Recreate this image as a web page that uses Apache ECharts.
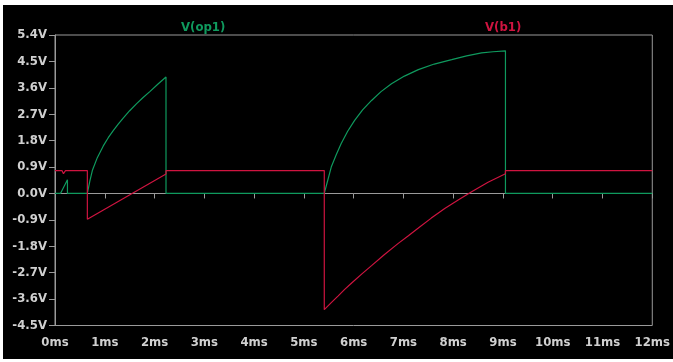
<!DOCTYPE html>
<html>
<head>
<meta charset="utf-8">
<script src="https://cdn.jsdelivr.net/npm/echarts@6/dist/echarts.min.js"></script>
<style>
  html, body { margin: 0; padding: 0; background: #ffffff; }
  #chart { position: absolute; left: 3px; top: 5px; width: 670px; height: 354px; background: #000000; }
</style>
</head>
<body>
<div id="chart"></div>
<script>
// V(op1) trace (time in ms, voltage in V)
const opTime = [0, 0.11, 0.25, 0.25, 0.65, 0.70, 0.75, 0.85, 0.97, 1.07, 1.17, 1.27, 1.37, 1.50, 1.64, 1.77, 1.91, 2.07, 2.23, 2.23,
                5.41, 5.48, 5.55, 5.65, 5.75, 5.88, 6.02, 6.18, 6.36, 6.55, 6.76, 7.02, 7.30, 7.62, 7.97, 8.27, 8.57, 8.80, 9.05, 9.05, 12];
const opVolt = [0, 0, 0.47, 0, 0, 0.42, 0.78, 1.22, 1.62, 1.90, 2.14, 2.36, 2.57, 2.82, 3.06, 3.27, 3.48, 3.73, 3.97, 0,
                0, 0.45, 0.90, 1.32, 1.70, 2.12, 2.49, 2.85, 3.17, 3.47, 3.74, 4.00, 4.22, 4.41, 4.56, 4.69, 4.79, 4.83, 4.86, 0, 0];
// V(b1) trace
const b1Time = [0, 0.14, 0.17, 0.21, 0.65, 0.65, 2.23, 2.23, 5.41, 5.41, 5.55, 5.69, 5.82, 5.96, 6.16, 6.36, 6.62, 6.89, 7.10, 7.30,
                7.56, 7.83, 8.10, 8.37, 8.70, 9.05, 9.05, 12];
const b1Volt = [0.78, 0.78, 0.67, 0.78, 0.78, -0.88, 0.66, 0.78, 0.78, -3.96, -3.72, -3.49, -3.27, -3.05, -2.75, -2.46, -2.08, -1.71, -1.44, -1.18,
                -0.84, -0.51, -0.22, 0.06, 0.38, 0.67, 0.78, 0.78];

const seriesNames = ['V(op1)', 'V(b1)'];
const xTickMin = 0, xTickMax = 12, xTickStep = 1;
const yTickMin = -4.5, yTickMax = 5.4, yTickStep = 0.9;

const greenColor = '#0f9a5e';
const redColor = '#cf1440';
const axisGray = '#9a9a9a';
const labelColor = '#d0d0d0';
const fontFam = "'DejaVu Sans Condensed', 'Liberation Sans Narrow', 'DejaVu Sans', sans-serif";

const zip = (xs, ys) => xs.map((x, i) => [x, ys[i]]);

const chart = echarts.init(document.getElementById('chart'), null, { renderer: 'canvas' });
chart.setOption({
  backgroundColor: '#000000',
  animation: false,
  legend: [
    {
      data: [{ name: seriesNames[0], textStyle: { color: greenColor } }],
      left: 168, top: 11, icon: 'rect', itemWidth: 0, itemHeight: 0, itemGap: 0,
      textStyle: { fontFamily: fontFam, fontWeight: 'bold', fontSize: 13 },
      selectedMode: false
    },
    {
      data: [{ name: seriesNames[1], textStyle: { color: redColor } }],
      left: 472, top: 11, icon: 'rect', itemWidth: 0, itemHeight: 0, itemGap: 0,
      textStyle: { fontFamily: fontFam, fontWeight: 'bold', fontSize: 13 },
      selectedMode: false
    }
  ],
  grid: {
    left: 52, right: 20.5, top: 30, bottom: 33.5,
    show: true, borderColor: axisGray, borderWidth: 1, backgroundColor: 'transparent',
    containLabel: false
  },
  xAxis: {
    type: 'value', min: xTickMin, max: xTickMax, interval: xTickStep,
    axisLine: { show: true, lineStyle: { color: axisGray, width: 1 } },
    axisTick: { show: true, length: 5, lineStyle: { color: axisGray } },
    splitLine: { show: false },
    axisLabel: {
      color: labelColor, fontFamily: fontFam, fontWeight: 'bold', fontSize: 13, margin: 11,
      formatter: v => Math.round(v) + 'ms'
    }
  },
  yAxis: {
    type: 'value', min: yTickMin, max: yTickMax, interval: yTickStep,
    axisLine: { show: true, lineStyle: { color: axisGray, width: 1 } },
    axisTick: { show: true, length: 6, lineStyle: { color: axisGray } },
    splitLine: { show: false },
    axisLabel: {
      color: labelColor, fontFamily: fontFam, fontWeight: 'bold', fontSize: 13, margin: 8,
      formatter: v => (Math.abs(v) < 1e-9 ? '0.0' : v.toFixed(1)) + 'V'
    }
  },
  series: [
    {
      name: seriesNames[0], type: 'line', data: zip(opTime, opVolt),
      showSymbol: false, symbol: 'none', smooth: false,
      lineStyle: { color: greenColor, width: 1.2 }, itemStyle: { color: greenColor }, z: 2
    },
    {
      name: seriesNames[1], type: 'line', data: zip(b1Time, b1Volt),
      showSymbol: false, symbol: 'none', smooth: false,
      lineStyle: { color: redColor, width: 1.2 }, itemStyle: { color: redColor }, z: 3
    }
  ]
});
</script>
</body>
</html>
